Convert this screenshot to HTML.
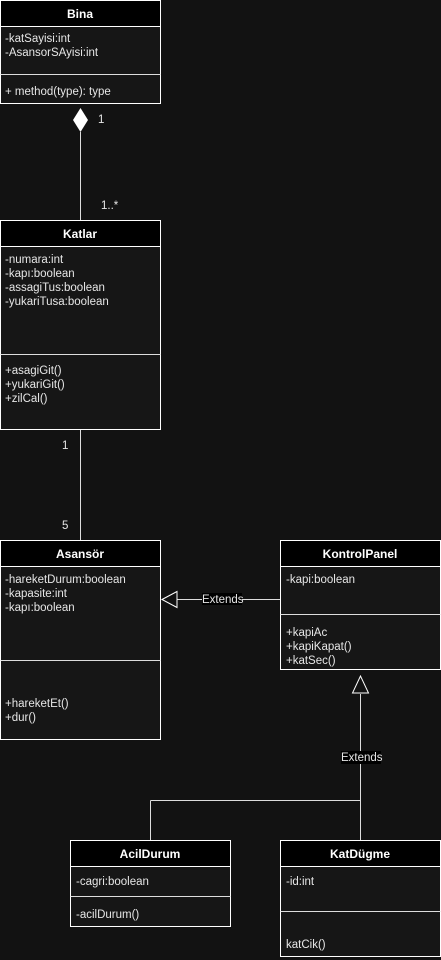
<!DOCTYPE html>
<html><head><meta charset="utf-8"><style>
html,body{margin:0;padding:0;background:#121212;}
svg{display:block}
text{font-family:"Liberation Sans",Arial,sans-serif;font-size:11.5px;fill:#e6e6e6}
.h{font-weight:bold;fill:#fff;font-size:12px;text-anchor:middle}
.b{fill:#161616;stroke:#fff;stroke-width:1}
.hd{fill:#000;stroke:#fff;stroke-width:1}
.l{stroke:#ddd;stroke-width:1;fill:none}
</style></head><body>
<svg width="441" height="960" viewBox="0 0 441 960">
<rect width="441" height="960" fill="#121212"/>
<!-- Bina -->
<rect class="b" x="0.5" y="0.5" width="160" height="103"/>
<rect class="hd" x="0.5" y="0.5" width="160" height="26"/>
<line class="l" x1="0.5" y1="74.5" x2="160.5" y2="74.5" stroke="#fff"/>
<text class="h" x="80" y="18">Bina</text>
<text x="5" y="42">-katSayisi:int</text>
<text x="5" y="56">-AsansorSAyisi:int</text>
<text x="5" y="95">+ method(type): type</text>
<!-- Bina-Katlar -->
<line class="l" x1="80.5" y1="132" x2="80.5" y2="220"/>
<polygon points="80.5,108 88,120 80.5,132 73,120" fill="#fff"/>
<text x="98" y="123">1</text>
<text x="101" y="209">1..*</text>
<!-- Katlar -->
<rect class="b" x="0.5" y="220.5" width="160" height="209"/>
<rect class="hd" x="0.5" y="220.5" width="160" height="26"/>
<line class="l" x1="0.5" y1="354.5" x2="160.5" y2="354.5" stroke="#fff"/>
<text class="h" x="80" y="238">Katlar</text>
<text x="5" y="263">-numara:int</text>
<text x="5" y="277">-kapı:boolean</text>
<text x="5" y="291">-assagiTus:boolean</text>
<text x="5" y="305">-yukariTusa:boolean</text>
<text x="5" y="374">+asagiGit()</text>
<text x="5" y="388">+yukariGit()</text>
<text x="5" y="402">+zilCal()</text>
<line class="l" x1="80.5" y1="430" x2="80.5" y2="540"/>
<text x="62" y="449">1</text>
<text x="62" y="529">5</text>
<!-- Asansor -->
<rect class="b" x="0.5" y="540.5" width="160" height="199"/>
<rect class="hd" x="0.5" y="540.5" width="160" height="26"/>
<line class="l" x1="0.5" y1="660.5" x2="160.5" y2="660.5" stroke="#fff"/>
<text class="h" x="80" y="558">Asansör</text>
<text x="5" y="583">-hareketDurum:boolean</text>
<text x="5" y="597">-kapasite:int</text>
<text x="5" y="611">-kapı:boolean</text>
<text x="5" y="707">+hareketEt()</text>
<text x="5" y="721">+dur()</text>
<!-- KontrolPanel -->
<rect class="b" x="280.5" y="540.5" width="160" height="129"/>
<rect class="hd" x="280.5" y="540.5" width="160" height="26"/>
<line class="l" x1="280.5" y1="614.5" x2="440.5" y2="614.5" stroke="#fff"/>
<text class="h" x="360" y="558">KontrolPanel</text>
<text x="286" y="583">-kapi:boolean</text>
<text x="286" y="636">+kapiAc</text>
<text x="286" y="650">+kapiKapat()</text>
<text x="286" y="664">+katSec()</text>
<!-- Extends horizontal -->
<line class="l" x1="177" y1="599.5" x2="280" y2="599.5"/>
<polygon points="162,599.5 177,591.5 177,607.5" fill="#121212" stroke="#fff"/>
<rect x="202" y="593" width="40" height="12" fill="#000"/>
<text x="202" y="603">Extends</text>
<!-- Extends vertical -->
<line class="l" x1="360.5" y1="694" x2="360.5" y2="840"/>
<polygon points="360.5,676 352.5,693 368.5,693" fill="#121212" stroke="#fff"/>
<line class="l" x1="150.5" y1="800.5" x2="360.5" y2="800.5"/>
<line class="l" x1="150.5" y1="800.5" x2="150.5" y2="840"/>
<rect x="341" y="751" width="40" height="13" fill="#000"/>
<text x="341" y="761">Extends</text>
<!-- AcilDurum -->
<rect class="b" x="70.5" y="840.5" width="160" height="86"/>
<rect class="hd" x="70.5" y="840.5" width="160" height="26"/>
<line class="l" x1="70.5" y1="896.5" x2="230.5" y2="896.5" stroke="#fff"/>
<text class="h" x="150" y="858">AcilDurum</text>
<text x="76" y="885">-cagri:boolean</text>
<text x="76" y="918">-acilDurum()</text>
<!-- KatDugme -->
<rect class="b" x="280.5" y="840.5" width="160" height="116"/>
<rect class="hd" x="280.5" y="840.5" width="160" height="26"/>
<line class="l" x1="280.5" y1="911.5" x2="440.5" y2="911.5" stroke="#fff"/>
<text class="h" x="360" y="858">KatDügme</text>
<text x="286" y="885">-id:int</text>
<text x="286" y="948">katCik()</text>
</svg>
</body></html>
